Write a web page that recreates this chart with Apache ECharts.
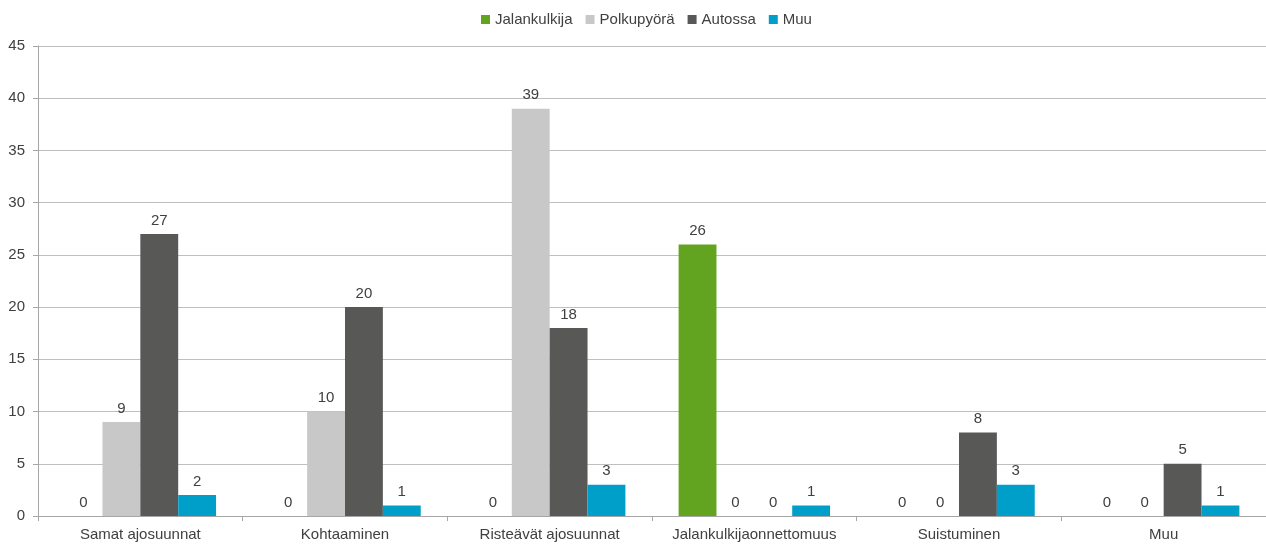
<!DOCTYPE html>
<html><head><meta charset="utf-8">
<script src="https://cdn.jsdelivr.net/npm/echarts@6/dist/echarts.min.js"></script>
<style>html,body{margin:0;padding:0;background:#fff}#c{width:1266px;height:545px}</style>
</head><body><div id="c"></div>
<script>
const categories = ['Samat ajosuunnat','Kohtaaminen','Risteävät ajosuunnat','Jalankulkijaonnettomuus','Suistuminen','Muu'];
const seriesNames = ['Jalankulkija','Polkupyörä','Autossa','Muu'];
const jalankulkija = [0,0,0,26,0,0];
const polkupyora = [9,10,39,0,0,0];
const autossa = [27,20,18,0,8,5];
const muu = [2,1,3,1,3,1];
const colors = ['#62a420','#c8c8c8','#585857','#009fca'];
const data = [jalankulkija, polkupyora, autossa, muu];
const font = 'Liberation Sans, Arial, sans-serif';
const fs = 15;
const chart = echarts.init(document.getElementById('c'));
chart.setOption({
  animation:false,
  textStyle:{fontFamily:font,color:'#404040'},
  legend:{top:7,left:476,itemWidth:9,itemHeight:9,itemGap:13,itemTextGap:3,icon:'rect',
    textStyle:{fontFamily:font,fontSize:fs,color:'#404040'},data:seriesNames},
  grid:{left:38,right:0,top:46,bottom:29,containLabel:false},
  xAxis:{type:'category',data:categories,
    axisLine:{lineStyle:{color:'#a6a6a6'}},
    axisTick:{show:true,interval:0,length:5,lineStyle:{color:'#a6a6a6'}},
    axisLabel:{interval:0,fontFamily:font,fontSize:fs,color:'#404040',margin:11}},
  yAxis:{type:'value',min:0,max:45,interval:5,
    axisLine:{show:true,lineStyle:{color:'#a6a6a6'}},
    axisTick:{show:true,length:5,lineStyle:{color:'#a6a6a6'}},
    splitLine:{lineStyle:{color:'#bfbfbf'}},
    axisLabel:{fontFamily:font,fontSize:fs,color:'#404040',margin:13}},
  series: seriesNames.map((n,i)=>({
    name:n,type:'bar',data:data[i],barGap:'0%',barCategoryGap:'26%',
    itemStyle:{color:colors[i]},
    label:{show:true,position:'top',distance:6,fontFamily:font,fontSize:fs,color:'#404040'}
  }))
});
</script></body></html>
